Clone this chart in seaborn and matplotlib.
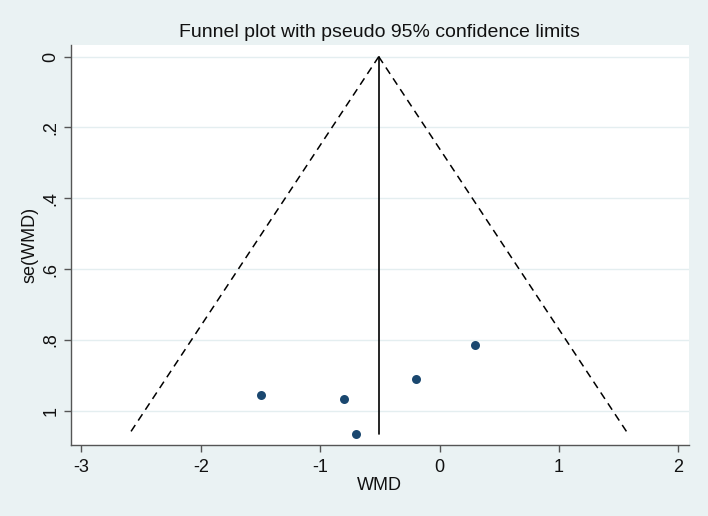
import numpy as np
import pandas as pd
import matplotlib
matplotlib.use("Agg")
import matplotlib.pyplot as plt
import seaborn as sns

# ── Data ──────────────────────────────────────────────────
wmd = [-1.50, -0.80, -0.70, -0.20, 0.30]
se_wmd = [0.956, 0.966, 1.066, 0.910, 0.814]
pooled = -0.51          # fixed-effect pooled WMD
se_max = 1.066          # bottom of the funnel
z = 1.96                # pseudo 95% limits

x_ticks = [-3, -2, -1, 0, 1, 2]
y_ticks = [0, 0.2, 0.4, 0.6, 0.8, 1.0]
y_ticklabels = ["0", ".2", ".4", ".6", ".8", "1"]

df = pd.DataFrame({"WMD": wmd, "se": se_wmd})

# ── Stata s2color-ish look ────────────────────────────────
sns.set_theme(style="white")
plt.rcParams["font.family"] = ["Liberation Sans", "DejaVu Sans"]

bg = "#eaf2f3"
navy = "#1a476f"

fig = plt.figure(figsize=(7.08, 5.16), dpi=100, facecolor=bg)
ax = fig.add_axes([0.0999, 0.1376, 0.8726, 0.7752])
ax.set_facecolor("white")

# gridlines
for yt in y_ticks:
    ax.axhline(yt, color="#e4eef0", lw=1.0, zorder=0)

# funnel: pooled estimate and pseudo confidence limits
se_line = np.array([0, se_max])
ax.plot([pooled, pooled], se_line, color="black", lw=1.2, zorder=2)
ax.plot(pooled - z * se_line, se_line, color="black", lw=1.1,
        linestyle=(0, (5, 3.5)), zorder=2)
ax.plot(pooled + z * se_line, se_line, color="black", lw=1.1,
        linestyle=(0, (5, 3.5)), zorder=2)

sns.scatterplot(data=df, x="WMD", y="se", color=navy, s=42,
                edgecolor=navy, linewidth=0, ax=ax, zorder=3)

ax.set_xlim(-3.09, 2.085)
ax.set_ylim(1.097, -0.033)
ax.set_xticks(x_ticks)
ax.set_xticklabels([str(t) for t in x_ticks])
ax.set_yticks(y_ticks)
ax.set_yticklabels(y_ticklabels, rotation=90, va="center")

for side in ["top", "right"]:
    ax.spines[side].set_visible(False)
for side in ["left", "bottom"]:
    ax.spines[side].set_color("#555555")
    ax.spines[side].set_linewidth(1.0)

ax.tick_params(axis="both", which="major", direction="out", length=5,
               width=1.0, color="#555555", labelsize=13, labelcolor="#111111",
               left=True, bottom=True)
ax.tick_params(axis="x", pad=5)
ax.tick_params(axis="y", pad=3)

ax.set_xlabel("WMD", fontsize=13, color="#111111", labelpad=1)
ax.set_ylabel("se(WMD)", fontsize=13, color="#111111", labelpad=3)
# Stata centres the title over the plot region
ax.set_title("Funnel plot with pseudo 95% confidence limits",
             fontsize=14, color="#111111", pad=6)

fig.savefig("out.png", dpi=100, facecolor=bg)
